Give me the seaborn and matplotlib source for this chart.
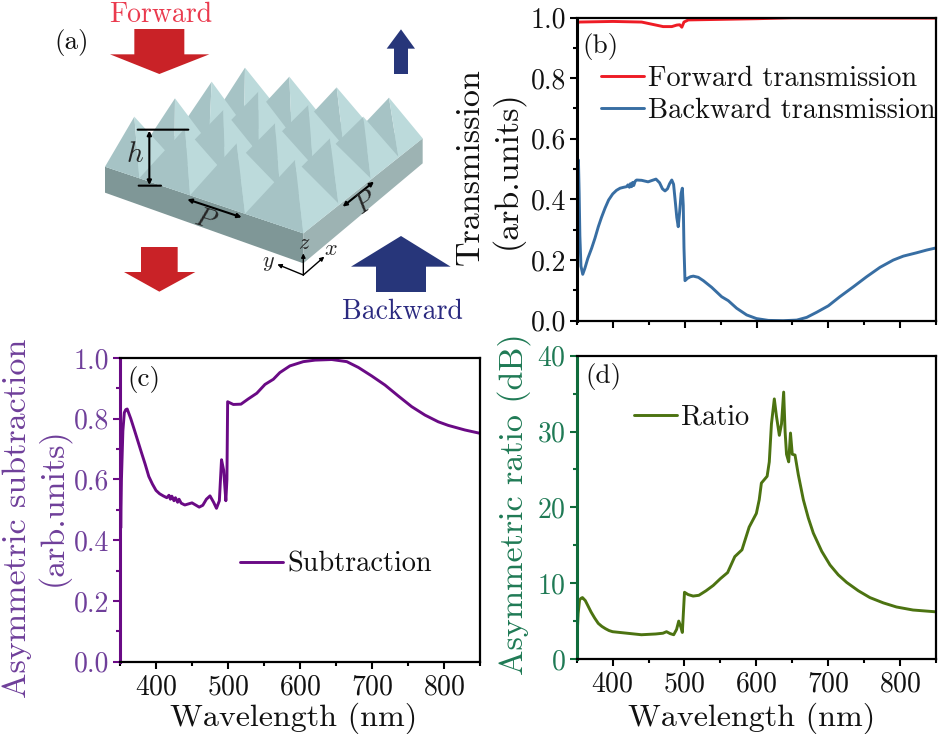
import numpy as np
import pandas as pd
import matplotlib
matplotlib.use('Agg')
import matplotlib.pyplot as plt
from matplotlib.patches import Polygon
import seaborn as sns

# Panel (b) curves
wl_forward = [350, 352, 400, 440, 470, 482, 489, 493, 496, 499, 505, 600, 650, 850]
forward = [0.975, 0.985, 0.987, 0.985, 0.970, 0.970, 0.975, 0.976, 0.968, 0.985, 0.992, 0.996, 0.999, 0.998]

wl_backward = [350, 351, 352, 353, 354, 355.5, 358, 361, 365, 370.4, 375, 379.7, 384, 389, 394, 399.7, 405, 410, 415, 419,
               421, 423, 424.5, 426, 427.5, 429, 431, 433, 440, 449, 455, 460, 465, 469, 472.6, 476, 479, 482, 484.5, 487, 489, 491,
               493, 495, 496.7, 498, 499, 500.4, 504, 508, 512, 519, 526, 537.6, 551.5, 560.7, 572.4, 586.3, 600, 616.5, 637, 656, 670,
               684, 700, 716, 735, 753.4, 772, 790.5, 804.5, 823, 837, 850]
backward = [0.30, 0.40, 0.53, 0.42, 0.28, 0.18, 0.153, 0.173, 0.205, 0.239, 0.272, 0.31, 0.34, 0.371, 0.398, 0.418, 0.43, 0.437, 0.44, 0.442,
            0.448, 0.44, 0.452, 0.442, 0.456, 0.446, 0.46, 0.464, 0.463, 0.458, 0.463, 0.467, 0.455, 0.435, 0.428, 0.435, 0.452, 0.464, 0.45, 0.39, 0.34, 0.31,
            0.36, 0.42, 0.437, 0.38, 0.24, 0.132, 0.14, 0.145, 0.147, 0.143, 0.132, 0.110, 0.079, 0.066, 0.041, 0.019, 0.007, 0.001, 0.0, 0.002, 0.011,
            0.028, 0.049, 0.079, 0.112, 0.145, 0.176, 0.200, 0.213, 0.224, 0.233, 0.240]

# Panel (c) curve
wl_sub = [350, 351, 352, 354, 356, 358, 360, 365, 370, 375, 380, 385, 390, 395, 400, 405, 410, 415, 418, 420, 422, 425, 427, 430, 432, 435,
          440, 450, 460, 465, 470, 475, 480, 484, 488, 491, 494, 497, 498.5, 499.5, 507.4, 518, 528, 540, 551.4, 563, 572,
          586, 604.6, 621, 644, 665, 681, 699.5, 718, 736.5, 755, 773.6, 792, 806, 829, 850]
subtraction = [0.70, 0.44, 0.60, 0.76, 0.82, 0.83, 0.832, 0.80, 0.763, 0.725, 0.687, 0.65, 0.61, 0.585, 0.564, 0.553, 0.546, 0.54, 0.548, 0.535, 0.545, 0.53, 0.54, 0.525, 0.535, 0.522,
               0.516, 0.523, 0.509, 0.515, 0.535, 0.546, 0.525, 0.505, 0.53, 0.665, 0.63, 0.53, 0.60, 0.856, 0.847, 0.848, 0.865, 0.884, 0.913, 0.930, 0.952,
               0.974, 0.988, 0.993, 0.995, 0.988, 0.969, 0.941, 0.911, 0.875, 0.840, 0.812, 0.790, 0.778, 0.763, 0.752]

# Panel (d) curve
wl_ratio = [350, 351, 352, 354, 356, 358, 362, 370, 375, 380, 385, 390, 395, 400, 410, 420, 440, 460, 470, 475, 480, 485, 489, 492, 495,
            497, 500, 505, 512, 520, 530, 540, 550, 560, 570, 580, 590, 600, 604, 607, 615, 618, 621, 625, 628, 632,
            635, 638, 640, 642, 645, 647.5, 650, 653.8, 658.4, 665.4, 672.3, 679.3, 691, 702.5, 714, 725.7, 741.9, 758, 776.7, 795, 818, 850]
ratio = [2.5, 4.0, 6.0, 7.8, 8.0, 8.1, 7.7, 6.2, 5.4, 4.7, 4.3, 4.0, 3.75, 3.6, 3.5, 3.4, 3.2, 3.3, 3.4, 3.6, 3.35, 3.2, 3.9, 5.0, 4.2,
         3.5, 8.8, 8.5, 8.3, 8.4, 9.0, 9.7, 10.6, 11.4, 13.5, 14.4, 17.4, 19.2, 21.0, 23.2, 24.1, 26.0, 31.0, 34.3, 32.0, 29.5,
         31.0, 35.2, 30.0, 27.0, 26.0, 29.8, 27.0, 26.9, 24.3, 21.0, 18.6, 16.6, 14.2, 12.4, 11.1, 10.1, 9.0, 8.1, 7.4, 6.86, 6.46, 6.22]

wl_ticks = [400, 500, 600, 700, 800]
wl_minor = [350, 450, 550, 650, 750, 850]

# Schematic (a), traced in 3x zoomed pixels
left_edge = [(315, 500), (420, 455), (525, 408), (635, 358), (745, 310)]
right_edge = [(910, 700), (1015, 610), (1112, 535), (1195, 470), (1268, 415)]
row_steps = [0, 0.173, 0.429, 0.706, 1]
apexes = [[(403, 350), (525, 295), (635, 245), (735, 203)],
          [(555, 385), (670, 330), (775, 275), (868, 230)],
          [(710, 430), (825, 370), (925, 315), (1010, 262)],
          [(885, 480), (990, 415), (1090, 350), (1167, 293)]]
side_left = [(315, 500), (910, 700), (910, 790), (315, 578)]
side_right = [(910, 700), (1268, 415), (1268, 490), (910, 790)]
red_top = [(403, 87), (553, 87), (553, 163), (628, 163), (478, 222), (330, 163), (403, 163)]
red_bottom = [(423, 741), (533, 741), (533, 816), (586, 816), (478, 875), (372, 816), (423, 816)]
blue_top = [(1203, 88), (1245, 146), (1224, 146), (1224, 222), (1182, 222), (1182, 146), (1160, 146)]
blue_bottom = [(1203, 708), (1352, 800), (1278, 800), (1278, 876), (1128, 876), (1128, 800), (1053, 800)]

sns.set_theme(style='ticks')
plt.rcParams['font.family'] = ['cmr10', 'DejaVu Serif']
plt.rcParams['mathtext.fontset'] = 'cm'
plt.rcParams['axes.formatter.use_mathtext'] = True

W, H = 938, 734
fig = plt.figure(figsize=(W / 100, H / 100), dpi=100)

TICK = 20
XLABEL = 23
YLABEL = 24.5
LEG = 20.4
TAG = 19.5


def px_axes(left, top, right, bottom):
    return fig.add_axes([left / W, 1 - bottom / H, (right - left) / W, (bottom - top) / H])


def style_axes(ax, ymajor, yminor, ylim, left_color, label_color):
    ax.set_xlim(350, 850)
    ax.set_ylim(*ylim)
    ax.set_xticks(wl_ticks)
    ax.set_xticks(wl_minor, minor=True)
    ax.set_yticks(ymajor)
    ax.set_yticks(yminor, minor=True)
    ax.tick_params(axis='x', which='major', length=5, width=1.5, color='black', labelsize=TICK, labelcolor='#111111', pad=4)
    ax.tick_params(axis='x', which='minor', length=3, width=1.5, color='black')
    ax.tick_params(axis='y', which='major', length=5, width=1.5, color=left_color, labelsize=TICK, labelcolor=label_color, pad=3)
    ax.tick_params(axis='y', which='minor', length=3, width=1.5, color=left_color)
    for side in ['top', 'bottom', 'right']:
        ax.spines[side].set_linewidth(1.6)
        ax.spines[side].set_color('black')
    ax.spines['left'].set_linewidth(2.2)
    ax.spines['left'].set_color(left_color)
    ax.set_xlabel('')
    ax.set_ylabel('')


def draw_curve(ax, x, y, color, label):
    df = pd.DataFrame({'wavelength': x, 'value': y})
    sns.lineplot(data=df, x='wavelength', y='value', ax=ax, color=color, linewidth=2.1,
                 estimator=None, sort=False, label=label)


def draw_legend(ax, x, y):
    ax.legend(loc='upper left', bbox_to_anchor=(x, y), frameon=False, fontsize=LEG, handlelength=1.52,
              handletextpad=0.14, labelspacing=0.18, borderpad=0, borderaxespad=0, labelcolor='#111111')


def set_ylabel_at(ax, text, color, x_px, y_px, left, top, width, height):
    ax.set_ylabel(text, fontsize=YLABEL, color=color)
    ax.yaxis.label.set_verticalalignment('center')
    ax.yaxis.set_label_coords((x_px - left) / width, (top + height - y_px) / height)


# Schematic panel
sch = fig.add_axes([0, 0, 1, 1], zorder=0)
sch.set_xlim(0, W)
sch.set_ylim(H, 0)
sch.axis('off')


def poly(points, color):
    sch.add_patch(Polygon(np.array(points, dtype=float) / 3, closed=True, facecolor=color, edgecolor='none'))


def corner(i, j):
    a = np.array(left_edge[j], dtype=float)
    b = np.array(right_edge[j], dtype=float)
    return a + (b - a) * row_steps[i]


poly(side_left, '#7f9797')
poly(side_right, '#9db3b3')
poly([left_edge[0], right_edge[0], right_edge[4], left_edge[4]], '#bcdadb')
for i in range(4):
    for j in range(3, -1, -1):
        apex = apexes[i][j]
        poly([apex, corner(i, j), corner(i + 1, j)], '#a6c3c5')
        poly([apex, corner(i + 1, j), corner(i + 1, j + 1)], '#bcdadb')

poly(red_top, '#c92227')
poly(red_bottom, '#c92227')
poly(blue_top, '#27367a')
poly(blue_bottom, '#27367a')


def segment(a, b, arrow='-', lw=1.5):
    sch.annotate('', xy=(b[0] / 3, b[1] / 3), xytext=(a[0] / 3, a[1] / 3),
                 arrowprops=dict(arrowstyle=arrow, color='black', lw=lw, shrinkA=0, shrinkB=0, mutation_scale=6))


segment((413, 389), (565, 389))
segment((416, 557), (483, 557))
segment((448, 392), (448, 555), '<|-|>')
segment((562, 598), (725, 652), '<|-|>')
segment((1028, 620), (1122, 545), '<|-|>')
segment((910, 825), (910, 760), '-|>', 1)
segment((910, 825), (973, 770), '-|>', 1)
segment((910, 825), (832, 793), '-|>', 1)

sch.text(135, 155, r'$h$', fontsize=21, ha='center', va='center')
sch.text(206, 220, r'$P$', fontsize=20, ha='center', va='center', rotation=-17)
sch.text(366, 203, r'$P$', fontsize=20, ha='center', va='center', rotation=35)
sch.text(304, 243, r'$z$', fontsize=16, ha='center', va='center')
sch.text(331, 249, r'$x$', fontsize=16, ha='center', va='center')
sch.text(268, 263, r'$y$', fontsize=16, ha='center', va='center')
sch.text(161, 15, 'Forward', color='#ea3a4e', fontsize=20, ha='center', va='center')
sch.text(402, 312, 'Backward', color='#2b2a80', fontsize=20, ha='center', va='center')
sch.text(72, 42, '(a)', color='#111111', fontsize=TAG, ha='center', va='center')

# Panel (b)
ax_b = px_axes(577, 17.5, 936, 320.7)
draw_curve(ax_b, wl_forward, forward, '#ee1c25', 'Forward transmission')
draw_curve(ax_b, wl_backward, backward, '#386ea3', 'Backward transmission')
style_axes(ax_b, [0, 0.2, 0.4, 0.6, 0.8, 1.0], [0.1, 0.3, 0.5, 0.7, 0.9], (0, 1), 'black', '#111111')
ax_b.set_yticklabels(['0.0', '0.2', '0.4', '0.6', '0.8', '1.0'])
ax_b.set_xticklabels([])
draw_legend(ax_b, 0.067, 0.84)
ax_b.text(0.015, 0.905, '(b)', transform=ax_b.transAxes, fontsize=TAG, color='#111111', va='center')
set_ylabel_at(ax_b, 'Transmission', '#111111', 470, 167, 577, 17.5, 359, 303.2)
fig.text(507 / W, 1 - 170 / H, '(arb.units)', fontsize=YLABEL, rotation=90, ha='center', va='center', color='#111111')

# Panel (c)
purple = '#6a0a85'
ax_c = px_axes(120, 358, 480, 661.7)
draw_curve(ax_c, wl_sub, subtraction, purple, 'Subtraction')
style_axes(ax_c, [0, 0.2, 0.4, 0.6, 0.8, 1.0], [0.1, 0.3, 0.5, 0.7, 0.9], (0, 1), purple, '#6f3f9a')
ax_c.set_yticklabels(['0.0', '0.2', '0.4', '0.6', '0.8', '1.0'])
draw_legend(ax_c, 0.333, 0.363)
ax_c.text(0.02, 0.93, '(c)', transform=ax_c.transAxes, fontsize=TAG, color='#111111', va='center')
ax_c.set_xlabel('Wavelength (nm)', fontsize=XLABEL, color='#111111')
ax_c.xaxis.set_label_coords(0.483, (661.7 - 718) / 303.7)
ax_c.xaxis.label.set_va('center')
set_ylabel_at(ax_c, 'Asymmetric subtraction', '#6f3f9a', 17, 518, 120, 358, 360, 303.7)
fig.text(53 / W, 1 - 507 / H, '(arb.units)', fontsize=YLABEL, rotation=90, ha='center', va='center', color='#6f3f9a')

# Panel (d)
green = '#0f6b3b'
ax_d = px_axes(576.7, 355.7, 936, 659)
draw_curve(ax_d, wl_ratio, ratio, '#4c7311', 'Ratio')
style_axes(ax_d, [0, 10, 20, 30, 40], [5, 15, 25, 35], (0, 40), green, '#1f7a55')
draw_legend(ax_d, 0.16, 0.84)
ax_d.text(0.023, 0.93, '(d)', transform=ax_d.transAxes, fontsize=TAG, color='#111111', va='center')
ax_d.set_xlabel('Wavelength (nm)', fontsize=XLABEL, color='#111111')
ax_d.xaxis.set_label_coords(0.488, (659 - 718) / 303.3)
ax_d.xaxis.label.set_va('center')
set_ylabel_at(ax_d, 'Asymmetric ratio (dB)', '#1f7a55', 514, 504, 576.7, 355.7, 359.3, 303.3)

fig.savefig('out.png', dpi=100)
